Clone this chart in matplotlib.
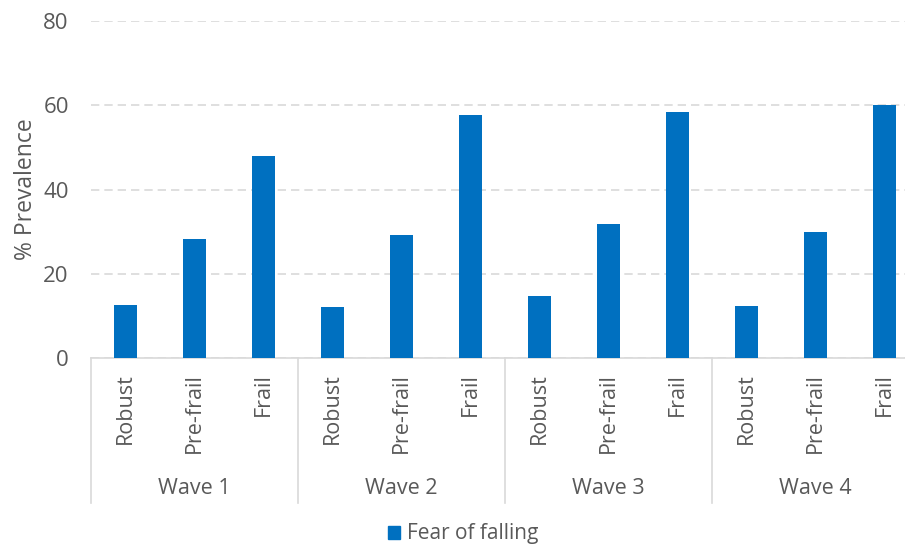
import numpy as np
import matplotlib.pyplot as plt
from matplotlib.patches import Patch
from matplotlib.transforms import blended_transform_factory

plt.rcParams['font.family'] = ['Open Sans', 'DejaVu Sans']

waves = ['Wave 1', 'Wave 2', 'Wave 3', 'Wave 4']
groups = ['Robust', 'Pre-frail', 'Frail']
fear_of_falling = [12.5, 28.2, 48.0,
                   12.1, 29.1, 57.6,
                   14.6, 31.8, 58.4,
                   12.4, 29.9, 60.0]

BLUE = '#0070C0'
GREY = '#595959'
LINE = '#D9D9D9'


def plot():
    fig = plt.figure(figsize=(9.05, 5.48), dpi=100)
    # plot area runs a little past the right edge of the figure
    ax = fig.add_axes([91 / 905, 1 - 358 / 548, 828 / 905, 337 / 548])

    x = np.arange(len(fear_of_falling))
    ax.bar(x, fear_of_falling, width=0.32, color=BLUE, zorder=3)

    ax.set_xlim(-0.5, len(x) - 0.5)
    ax.set_ylim(0, 80)
    ax.set_yticks([0, 20, 40, 60, 80])
    ax.yaxis.grid(True, color=LINE, linestyle=(0, (5, 3)), linewidth=1.2, zorder=0)
    ax.tick_params(axis='y', length=0, pad=16, labelsize=16, labelcolor=GREY)

    ax.set_xticks(x)
    ax.set_xticklabels(groups * len(waves), rotation=90, fontsize=15.5, color=GREY)
    ax.tick_params(axis='x', length=0, pad=11)

    for side in ['top', 'right', 'left']:
        ax.spines[side].set_visible(False)
    ax.spines['bottom'].set_color(LINE)
    ax.spines['bottom'].set_linewidth(1.2)

    ax.set_ylabel('% Prevalence', fontsize=16.5, color=GREY, labelpad=4)

    # group separators and wave names under the category labels
    trans = blended_transform_factory(ax.transData, ax.transAxes)
    for i in range(len(waves) + 1):
        xs = i * len(groups) - 0.5
        ax.plot([xs, xs], [0, -0.43], transform=trans, color=LINE,
                linewidth=1.2, clip_on=False)
    for i, w in enumerate(waves):
        ax.text(i * len(groups) + 1, -0.386, w, transform=trans, ha='center',
                va='center', fontsize=15.5, color=GREY)

    fig.legend(handles=[Patch(color=BLUE, label='Fear of falling')],
               loc='center', bbox_to_anchor=(463 / 905, 1 - 534 / 548),
               frameon=False, fontsize=15, labelcolor=GREY,
               borderaxespad=0, borderpad=0,
               handlelength=0.6, handleheight=0.6, handletextpad=0.3)

    fig.savefig('out.png', dpi=100, facecolor='white')


if __name__ == '__main__':
    plot()
